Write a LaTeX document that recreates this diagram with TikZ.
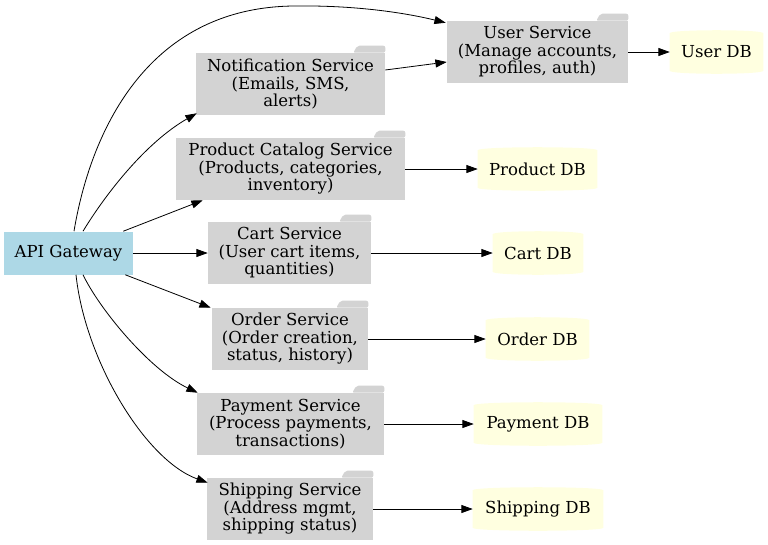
\documentclass[tikz,border=0pt]{standalone}
\usepackage{fontspec}
\setmainfont{DejaVu Serif}
\usetikzlibrary{arrows.meta,calc,backgrounds}

\definecolor{gatewayblue}{HTML}{ADD8E6}
\definecolor{servicegray}{HTML}{D3D3D3}
\definecolor{dbyellow}{HTML}{FFFFE0}

\newcommand\pxu{0.75pt}
\newcommand\labelfont{\fontsize{12.4}{13.1}\selectfont}

\tikzset{
  gateway/.style={fill=gatewayblue, minimum height=43*\pxu, inner sep=0pt, font=\labelfont},
  service/.style={fill=servicegray, minimum height=62*\pxu, inner sep=0pt, align=center, font=\labelfont},
  database/.style={minimum height=37*\pxu, inner sep=0pt, font=\labelfont},
  link/.style={-{Triangle[length=8.5pt,width=6pt]}, line width=0.6pt}
}

\begin{document}
\begin{tikzpicture}[x=0.75pt, y=-0.75pt]
\useasboundingbox (0,0) rectangle (768,544);

% GATEWAY
\node[gateway, minimum width=129*\pxu] (gw) at (68.5,253) {API Gateway};

% SERVICES
\node[service, minimum width=181*\pxu] (user) at (537.5,52) {User Service\\(Manage accounts,\\profiles, auth)};
\node[service, minimum width=189*\pxu] (notif) at (290.5,84) {Notification Service\\(Emails, SMS,\\alerts)};
\node[service, minimum width=229*\pxu] (product) at (290.5,169) {Product Catalog Service\\(Products, categories,\\inventory)};
\node[service, minimum width=163*\pxu] (cart) at (289.5,253) {Cart Service\\(User cart items,\\quantities)};
\node[service, minimum width=156*\pxu] (order) at (290,339) {Order Service\\(Order creation,\\status, history)};
\node[service, minimum width=187*\pxu] (payment) at (290.5,424) {Payment Service\\(Process payments,\\transactions)};
\node[service, minimum width=166*\pxu] (shipping) at (290,509) {Shipping Service\\(Address mgmt,\\shipping status)};

% DATABASES
\node[database, minimum width=93*\pxu] (userdb) at (716.5,52) {User DB};
\node[database, minimum width=119*\pxu] (productdb) at (537.5,169) {Product DB};
\node[database, minimum width=90*\pxu] (cartdb) at (538,253) {Cart DB};
\node[database, minimum width=103*\pxu] (orderdb) at (537.5,339) {Order DB};
\node[database, minimum width=128*\pxu] (paymentdb) at (538,424) {Payment DB};
\node[database, minimum width=130*\pxu] (shippingdb) at (538,509) {Shipping DB};

% FOLDER TABS AND DB CYLINDERS
\begin{scope}[on background layer]
\foreach \s in {user,notif,product,cart,order,payment,shipping}
  \fill[servicegray, rounded corners=1.5pt] ($(\s.north east)+(-32,0)$) -- ($(\s.north east)+(-28,-7)$) -- ($(\s.north east)+(0,-7)$) -- (\s.north east) -- cycle;
\foreach \d in {userdb,productdb,cartdb,orderdb,paymentdb,shippingdb}
  \fill[dbyellow] (\d.north west) .. controls ($(\d.north west)+(0,-4)$) and ($(\d.north east)+(0,-4)$) .. (\d.north east) -- (\d.south east) .. controls ($(\d.south east)+(0,4)$) and ($(\d.south west)+(0,4)$) .. (\d.south west) -- cycle;
\end{scope}

% GATEWAY TO SERVICES
\draw[link] ($(gw.north)+(5.5,0)$) .. controls (90,135) and (145,8) .. (293,6) .. controls (360,5) and (410,14) .. ($(user.north west)+(-1,2)$);
\draw[link] ($(gw.north)+(14.5,0)$) .. controls (105,195) and (145,143) .. ($(notif.south west)+(1,-2)$);
\draw[link] ($(gw.north east)+(-10,0)$) -- ($(product.south west)+(27,0)$);
\draw[link] (gw) -- (cart);
\draw[link] ($(gw.south east)+(-8,0)$) -- ($(order.north west)+(-1,0)$);
\draw[link] ($(gw.south)+(14.5,0)$) .. controls (100,310) and (150,370) .. ($(payment.north west)+(1,0)$);
\draw[link] ($(gw.south)+(7.5,0)$) .. controls (85,360) and (145,460) .. ($(shipping.north west)+(1,5)$);

% SERVICE TO SERVICE
\draw[link] ($(notif.east)+(0,-14)$) -- ($(user.west)+(0,10)$);

% SERVICES TO DATABASES
\foreach \s/\d in {user/userdb,product/productdb,cart/cartdb,order/orderdb,payment/paymentdb,shipping/shippingdb}
  \draw[link] (\s) -- (\d);

\end{tikzpicture}
\end{document}
